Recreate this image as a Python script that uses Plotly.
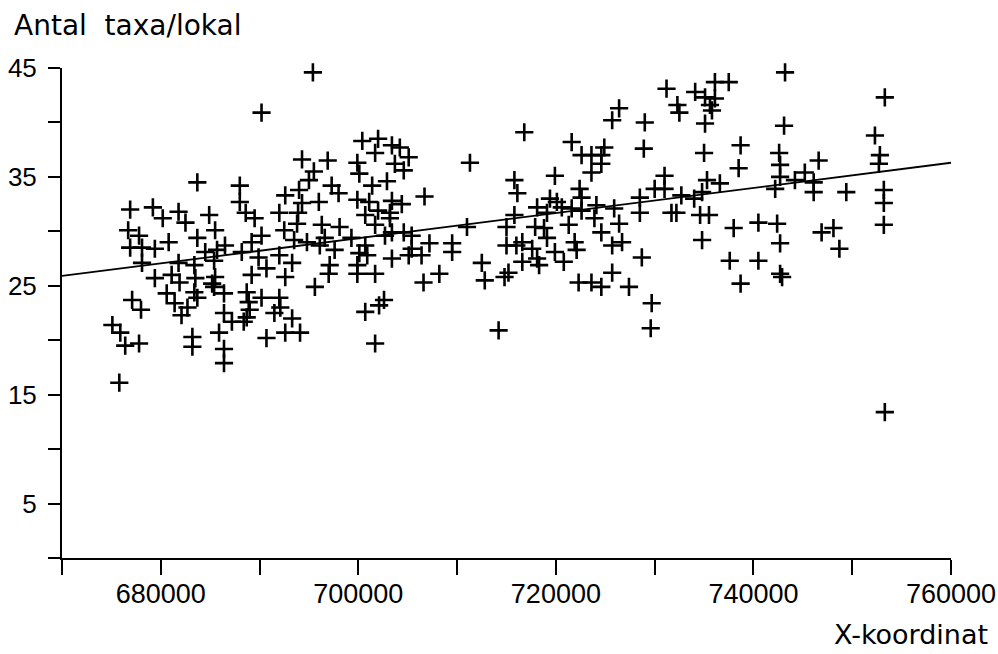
import plotly.graph_objects as go

# --- data (X-koordinat, Antal taxa/lokal) ---
x_coord = [
    683700, 688000, 688000, 676900, 679200, 680200, 681800, 682500, 684900, 688600,
    689500, 694300, 695500, 695000, 694000, 692600, 694300, 692000, 693900, 693800,
    696000, 697300, 698000, 699900, 699900, 700100, 676700, 677800, 676900, 678100,
    679400, 680800, 683700, 685500, 686500, 685700, 684500, 690200, 689200, 688200,
    689900, 692000, 692500, 693500, 694800, 696300, 698100, 696600, 696100, 697600,
    699300, 700100, 699900, 699900, 678100, 681800, 683400, 685400, 679400, 681100,
    681900, 683500, 685500, 685200, 680600, 683400, 683700, 686400, 685400, 689200,
    690700, 692600, 693300, 697100, 697000, 695600, 688700, 688900, 690200, 692000,
    692100, 691500, 693300, 689000, 688700, 687200, 688400, 686400, 685900, 686400,
    686400, 681400, 682700, 682100, 677100, 678000, 675100, 675900, 676400, 677800,
    683200, 683200, 690700, 692600, 694100, 675800,
    726400, 725700, 729000, 728900, 716800, 721600, 711300, 724900, 722600, 723600,
    724600, 724600, 723600, 719900, 715800, 716100, 722400, 722600, 702000, 700400,
    703400, 704200, 701700, 705100, 703700, 704600, 702900, 701400, 706700, 703400,
    704400, 701100, 702000, 703200, 700700, 703200, 701700, 703400, 704600, 705400,
    702700, 700700, 700900, 705400, 706400, 707200, 703400, 705100, 709500, 709500,
    708200, 711000, 715800, 715000, 717900, 718800, 719100, 718100, 719400, 720100,
    719100, 720600, 721600, 722600, 724100, 725900, 723900, 726400, 721300, 724600,
    728500, 730000, 728500, 721900, 722100, 715000, 716000, 716600, 717600, 718100,
    718300, 716600, 719900, 720800, 725700, 726700, 728700, 712500, 725700, 715200,
    706600, 712800, 714800, 722300, 723600, 724600, 727400, 729700, 729600, 701700,
    702100, 700700, 702600, 701700, 714200,
    752600, 753300, 743200, 736100, 737500, 731200, 734100, 735100, 736100, 732300,
    732500, 735600, 735800, 735100, 743100, 752300, 735000, 738700, 738500, 746600,
    752800, 752700, 742600, 742700, 742700, 745200, 744200, 735300, 736600, 742200,
    746100, 746100, 749400, 753200, 753200, 753200, 732700, 734000, 734800, 731000,
    731000, 731700, 732200, 734600, 735500, 740500, 742400, 738000, 734800, 742700,
    746900, 748100, 748700, 737600, 740500, 742700, 738700, 742900, 753300,
    695400, 690200, 696900,
]
n_taxa = [
    34.5, 34.2, 32.7, 32.0, 32.2, 31.2, 31.8, 30.8, 31.5, 31.7,
    31.2, 36.6, 35.5, 34.7, 33.8, 33.3, 32.6, 31.7, 31.7, 30.7,
    32.7, 34.2, 33.5, 36.3, 32.9, 35.3, 30.1, 29.6, 28.5, 28.5,
    28.4, 29.0, 29.4, 30.1, 28.7, 28.3, 28.1, 29.6, 29.0, 28.1,
    27.6, 27.8, 30.1, 29.2, 29.0, 30.6, 30.4, 29.4, 28.7, 28.3,
    29.4, 28.0, 26.9, 26.1, 27.1, 27.1, 26.9, 27.3, 25.7, 26.0,
    25.3, 25.7, 25.8, 25.2, 24.3, 24.4, 23.9, 24.3, 24.9, 26.0,
    26.6, 25.8, 27.1, 26.9, 26.1, 24.9, 24.4, 23.5, 23.9, 23.9,
    23.0, 22.5, 22.0, 22.8, 22.1, 21.7, 21.7, 22.5, 20.7, 19.2,
    17.9, 23.4, 23.0, 22.3, 23.7, 22.8, 21.4, 20.7, 19.5, 19.7,
    20.3, 19.4, 20.2, 20.7, 20.7, 16.1,
    41.3, 40.2, 40.0, 37.6, 39.1, 38.2, 36.3, 37.7, 37.0, 37.0,
    37.0, 36.2, 35.4, 35.1, 34.7, 33.5, 33.9, 33.1, 38.5, 38.3,
    37.9, 37.7, 37.2, 36.8, 36.2, 35.6, 34.6, 34.2, 33.2, 32.8,
    32.5, 32.7, 31.9, 31.7, 31.5, 31.2, 30.6, 29.9, 29.9, 29.6,
    29.6, 28.7, 27.8, 28.4, 27.8, 28.9, 27.5, 27.8, 28.9, 28.1,
    26.1, 30.4, 31.5, 30.4, 30.4, 30.3, 29.4, 32.2, 33.0, 32.7,
    31.7, 32.2, 32.1, 31.9, 32.4, 32.1, 31.2, 30.7, 30.6, 29.9,
    33.1, 33.9, 31.7, 29.0, 28.3, 28.7, 28.7, 29.0, 28.4, 27.5,
    26.9, 27.2, 28.1, 27.2, 28.7, 29.0, 27.6, 27.1, 26.2, 26.2,
    25.3, 25.5, 25.8, 25.3, 25.3, 24.9, 24.9, 23.4, 21.1, 26.1,
    23.2, 22.6, 23.7, 19.7, 20.9,
    45.2, 42.3, 44.6, 43.7, 43.7, 43.1, 42.8, 42.3, 42.2, 41.6,
    40.9, 41.6, 41.1, 39.9, 39.7, 38.8, 37.2, 37.9, 35.8, 36.5,
    37.0, 36.2, 37.2, 36.1, 35.0, 35.4, 34.7, 34.7, 34.4, 33.9,
    34.5, 33.6, 33.6, 33.8, 32.6, 30.6, 33.3, 33.0, 33.6, 35.1,
    33.9, 31.7, 31.7, 31.5, 31.5, 30.8, 30.7, 30.3, 29.2, 28.9,
    29.9, 30.3, 28.4, 27.3, 27.3, 26.1, 25.2, 25.8, 13.4,
    44.6, 40.9, 36.5,
]

# regression line end points
line_x = [670000, 760000]
line_y = [25.9, 36.3]

x_tickvals = [670000, 680000, 690000, 700000, 710000, 720000, 730000, 740000, 750000, 760000]
x_ticktext = ["", "680000", "", "700000", "", "720000", "", "740000", "", "760000"]
y_tickvals = [0, 5, 10, 15, 20, 25, 30, 35, 40, 45]
y_ticktext = ["", "5", "", "15", "", "25", "", "35", "", "45"]

y_title = "Antal  taxa/lokal"
x_title = "X-koordinat"

fig = go.Figure()
fig.add_trace(go.Scatter(
    x=x_coord, y=n_taxa, mode="markers",
    marker=dict(symbol="cross-thin", size=13, color="black",
                line=dict(width=2.6, color="black")),
    cliponaxis=False, hoverinfo="x+y",
))
fig.add_trace(go.Scatter(
    x=line_x, y=line_y, mode="lines",
    line=dict(color="black", width=1.8), hoverinfo="skip",
))

fig.update_layout(
    width=998, height=654,
    margin=dict(l=62, r=47, t=68, b=96, autoexpand=False),
    plot_bgcolor="white", paper_bgcolor="white",
    showlegend=False,
)
fig.update_xaxes(
    range=[670000, 760000], tickmode="array",
    tickvals=x_tickvals, ticktext=x_ticktext,
    ticks="outside", ticklen=15, tickwidth=2, tickcolor="black",
    showline=True, linecolor="black", linewidth=2,
    showgrid=False, zeroline=False, automargin=False,
    ticklabelstandoff=-4,
    tickfont=dict(family="Liberation Sans", size=27, color="black"),
)
fig.update_yaxes(
    range=[0, 45], tickmode="array",
    tickvals=y_tickvals, ticktext=y_ticktext,
    ticks="outside", ticklen=12, tickwidth=2, tickcolor="black",
    showline=True, linecolor="black", linewidth=2,
    showgrid=False, zeroline=False, automargin=False,
    ticklabelstandoff=6,
    tickfont=dict(family="Liberation Sans", size=26, color="black"),
)
fig.add_annotation(
    text=y_title, xref="paper", yref="paper",
    x=-50 / 889, y=(558 - 25) / 490, xanchor="left", yanchor="middle",
    showarrow=False, font=dict(family="DejaVu Sans", size=28, color="black"),
)
fig.add_annotation(
    text=x_title, xref="paper", yref="paper",
    x=928 / 889, y=-(652 - 558) / 490, xanchor="right", yanchor="bottom",
    showarrow=False, font=dict(family="DejaVu Sans", size=27, color="black"),
)

fig.write_html("out.html")
